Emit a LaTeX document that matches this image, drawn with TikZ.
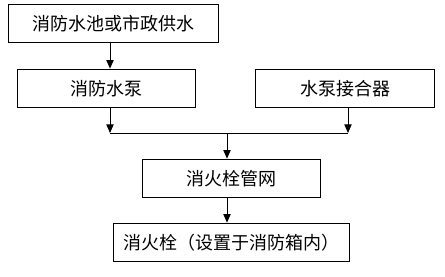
\documentclass[tikz,border=0pt]{standalone}
\usepackage{fontspec}
\newfontfamily\cjk{Noto Sans CJK SC}
\usetikzlibrary{arrows.meta}

\begin{document}
\begin{tikzpicture}[x=0.75pt, y=-0.75pt, line width=0.75pt,
          box/.style={draw, minimum height=29pt, inner sep=0pt,
            font=\cjk\fontsize{13.5}{16}\selectfont},
          flow/.style={-{Triangle[length=6.5pt, width=5.5pt]}},
        ]
          \useasboundingbox (0,0) rectangle (445,276);
          \node[box, minimum width=158pt] (pool)  at (113.5,  23.5) {消防水池或市政供水};
          \node[box, minimum width=134pt] (pump)  at (106.5,  88.5) {消防水泵};
          \node[box, minimum width=134pt] (adapt) at (345,    88.5) {水泵接合器};
          \node[box, minimum width=134pt] (net)   at (231.5, 178.5) {消火栓管网};
          \node[box, minimum width=177pt] (hyd)   at (231,   242.5) {消火栓（设置于消防箱内）};
          \coordinate (jl) at (110, 133);
          \coordinate (jr) at (348, 133);
          \coordinate (jm) at (227, 133);
          \draw[flow] (pool.south -| jl)  -- (pump.north -| jl);
          \draw[flow] (pump.south -| jl)  -- (jl);
          \draw[flow] (adapt.south -| jr) -- (jr);
          \draw (jl) -- (jr);
          \draw[flow] (jm) -- (net.north -| jm);
          \draw[flow] (net.south -| jm) -- (hyd.north -| jm);
        \end{tikzpicture}
\end{document}
